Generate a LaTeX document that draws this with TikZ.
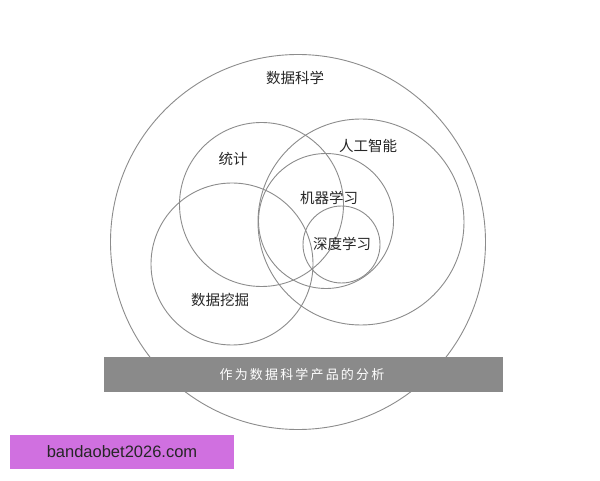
\documentclass[tikz,border=0pt]{standalone}
\usepackage{fontspec}
\newfontfamily\cjk{Noto Sans CJK SC}
\newfontfamily\wm{Liberation Sans}
\definecolor{ringgray}{HTML}{8C8C8C}
\definecolor{bargray}{HTML}{8A8A8A}
\definecolor{wmpurple}{HTML}{D070E0}
\begin{document}
\begin{tikzpicture}[x=1pt,y=1pt,
  ring/.style={draw=ringgray,line width=0.9pt},
  lbl/.style={font=\cjk\fontsize{14.5}{16}\selectfont,text=black!85,inner sep=0pt}]
\fill[white] (0,0) rectangle (600,480);
\useasboundingbox (0,0) rectangle (600,480);
% circles (y = 480 - image y)
\draw[ring] (298,238) circle (187.5);
\draw[ring] (261.5,275.5) circle (82);
\draw[ring] (232,216) circle (81);
\draw[ring] (361,258) circle (103);
\draw[ring] (326,259) circle (67.5);
\draw[ring] (341.5,235.5) circle (38.5);
% labels
\node[lbl] (ds) at (295,402) {数据科学};
\node[lbl] (st) at (233,321) {统计};
\node[lbl] (ai) at (368,334) {人工智能};
\node[lbl] (ml) at (329,282) {机器学习};
\node[lbl] (dl) at (342,236) {深度学习};
\node[lbl] (dm) at (220,180) {数据挖掘};
% bar
\node[fill=bargray,minimum width=399pt,minimum height=35pt,inner sep=0pt,anchor=north west] (bar) at (104,123) {};
\node[font=\cjk\fontsize{13}{15}\selectfont,text=white] (bartxt) at (302,105) {作\,为\,数\,据\,科\,学\,产\,品\,的\,分\,析};
% watermark
\node[fill=wmpurple,minimum width=224pt,minimum height=34pt,inner sep=0pt,anchor=north west] (wmbox) at (10,45) {};
\node[font=\wm\fontsize{16.5}{18}\selectfont,text=black!85] (wmtxt) at (122,28) {bandaobet2026.com};
\end{tikzpicture}
\end{document}
